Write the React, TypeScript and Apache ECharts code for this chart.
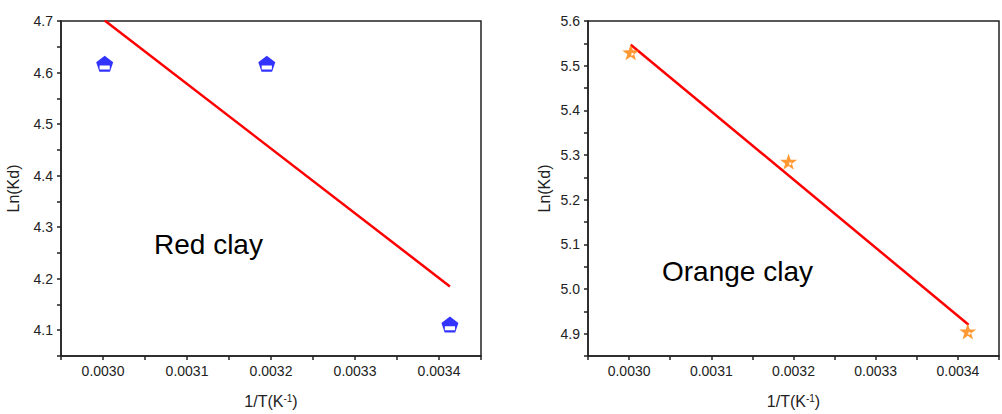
import React, { useEffect, useRef } from "react";
import * as echarts from "echarts";

// Red clay data
const redX = [0.003002, 0.003195, 0.003413];
const redY = [4.617, 4.617, 4.111];
const redFitX = [0.003002, 0.003413];
const redFitY = [4.701, 4.185];

// Orange clay data
const orangeX = [0.003002, 0.003194, 0.003412];
const orangeY = [5.53, 5.285, 4.905];
const orangeFitX = [0.003002, 0.003413];
const orangeFitY = [5.547, 4.92];

// Axis ranges
const xRange = [0.00295, 0.00345];
const redYRange = [4.05, 4.7];
const orangeYRange = [4.85, 5.6];

const FONT = "'Liberation Sans', Arial, Helvetica, sans-serif";
const AXIS_COLOR = "#222";

const pentagon =
  "path://M50,0 L100,38 L81,95 L19,95 L0,38 Z M20,58 L20,82 L80,82 L80,58 Z";
const star =
  "path://M50,2 L61.76,35.82 L97.55,36.55 L69.02,58.18 L79.39,92.45 L50,72 L20.61,92.45 L30.98,58.18 L2.45,36.55 L38.24,35.82 Z M54,50 L54,68 L65,63 L67,53 Z";

const zip = (a: number[], b: number[]) => a.map((v, i) => [v, b[i]]);

function xAxisCfg(gridIndex: number) {
  return {
    type: "value",
    gridIndex,
    min: xRange[0],
    max: xRange[1],
    interval: 0.00005,
    name: "1/T(K{sup|-1})",
    nameLocation: "middle",
    nameGap: 37,
    nameTextStyle: {
      fontFamily: FONT,
      fontSize: 16,
      color: AXIS_COLOR,
      rich: {
        sup: { fontFamily: FONT, fontSize: 10, color: AXIS_COLOR, verticalAlign: "top", lineHeight: 10, padding: [0, 0, 3, 0] },
      },
    },
    axisLine: { show: true, onZero: false, lineStyle: { color: AXIS_COLOR, width: 1.5 } },
    axisTick: { show: true, inside: false, length: 4, lineStyle: { color: AXIS_COLOR, width: 1.5 } },
    axisLabel: {
      fontFamily: FONT,
      fontSize: 14,
      color: AXIS_COLOR,
      margin: 8,
      showMinLabel: true,
      showMaxLabel: true,
      formatter: (v: number) => (Math.round(v * 1e5) % 10 === 0 ? v.toFixed(4) : ""),
    },
    splitLine: { show: false },
  };
}

function yAxisCfg(gridIndex: number, range: number[], nameGap: number) {
  return {
    type: "value",
    gridIndex,
    min: range[0],
    max: range[1],
    interval: 0.05,
    name: "Ln(Kd)",
    nameLocation: "middle",
    nameGap,
    nameTextStyle: { fontFamily: FONT, fontSize: 16, color: AXIS_COLOR },
    axisLine: { show: true, onZero: false, lineStyle: { color: AXIS_COLOR, width: 1.5 } },
    axisTick: { show: true, inside: false, length: 4, lineStyle: { color: AXIS_COLOR, width: 1.5 } },
    axisLabel: {
      fontFamily: FONT,
      fontSize: 14,
      color: AXIS_COLOR,
      margin: 8,
      showMinLabel: true,
      showMaxLabel: true,
      formatter: (v: number) => (Math.round(v * 100) % 10 === 0 ? v.toFixed(1) : ""),
    },
    splitLine: { show: false },
  };
}

export default function App() {
  const ref = useRef<HTMLDivElement>(null);
  useEffect(() => {
    if (!ref.current) return;
    const chart = echarts.init(ref.current, null, { renderer: "svg" });
    chart.setOption({
      animation: false,
      backgroundColor: "#ffffff",
      grid: [
        { left: 61, top: 21, width: 420, height: 339, show: true, borderColor: AXIS_COLOR, borderWidth: 1.5, backgroundColor: "transparent" },
        { left: 588, top: 21, width: 422, height: 339, show: true, borderColor: AXIS_COLOR, borderWidth: 1.5, backgroundColor: "transparent" },
      ],
      xAxis: [xAxisCfg(0), xAxisCfg(1)],
      yAxis: [yAxisCfg(0, redYRange, 40), yAxisCfg(1, orangeYRange, 36)],
      graphic: [
        {
          type: "text",
          x: 154,
          y: 244,
          style: { text: "Red clay", font: `28px ${FONT}`, fill: "#000", align: "left", verticalAlign: "middle" },
        },
        {
          type: "text",
          x: 662,
          y: 271,
          style: { text: "Orange clay", font: `28px ${FONT}`, fill: "#000", align: "left", verticalAlign: "middle" },
        },
      ],
      series: [
        {
          type: "line",
          xAxisIndex: 0,
          yAxisIndex: 0,
          data: zip(redFitX, redFitY),
          symbol: "none",
          clip: true,
          lineStyle: { color: "#ff0000", width: 2.5 },
          z: 2,
        },
        {
          type: "scatter",
          xAxisIndex: 0,
          yAxisIndex: 0,
          data: zip(redX, redY),
          symbol: pentagon,
          symbolSize: [17, 16],
          itemStyle: { color: "#0000ff" },
          z: 3,
        },
        {
          type: "line",
          xAxisIndex: 1,
          yAxisIndex: 1,
          data: zip(orangeFitX, orangeFitY),
          symbol: "none",
          clip: true,
          lineStyle: { color: "#ff0000", width: 2.5 },
          z: 2,
        },
        {
          type: "scatter",
          xAxisIndex: 1,
          yAxisIndex: 1,
          data: zip(orangeX, orangeY),
          symbol: star,
          symbolSize: [17, 16],
          itemStyle: { color: "#ff8000" },
          z: 3,
        },
      ],
    });
    return () => chart.dispose();
  }, []);
  return (
    <div
      ref={ref}
      style={{ position: "fixed", left: 0, top: 0, width: 1002, height: 414, background: "#fff" }}
    />
  );
}
